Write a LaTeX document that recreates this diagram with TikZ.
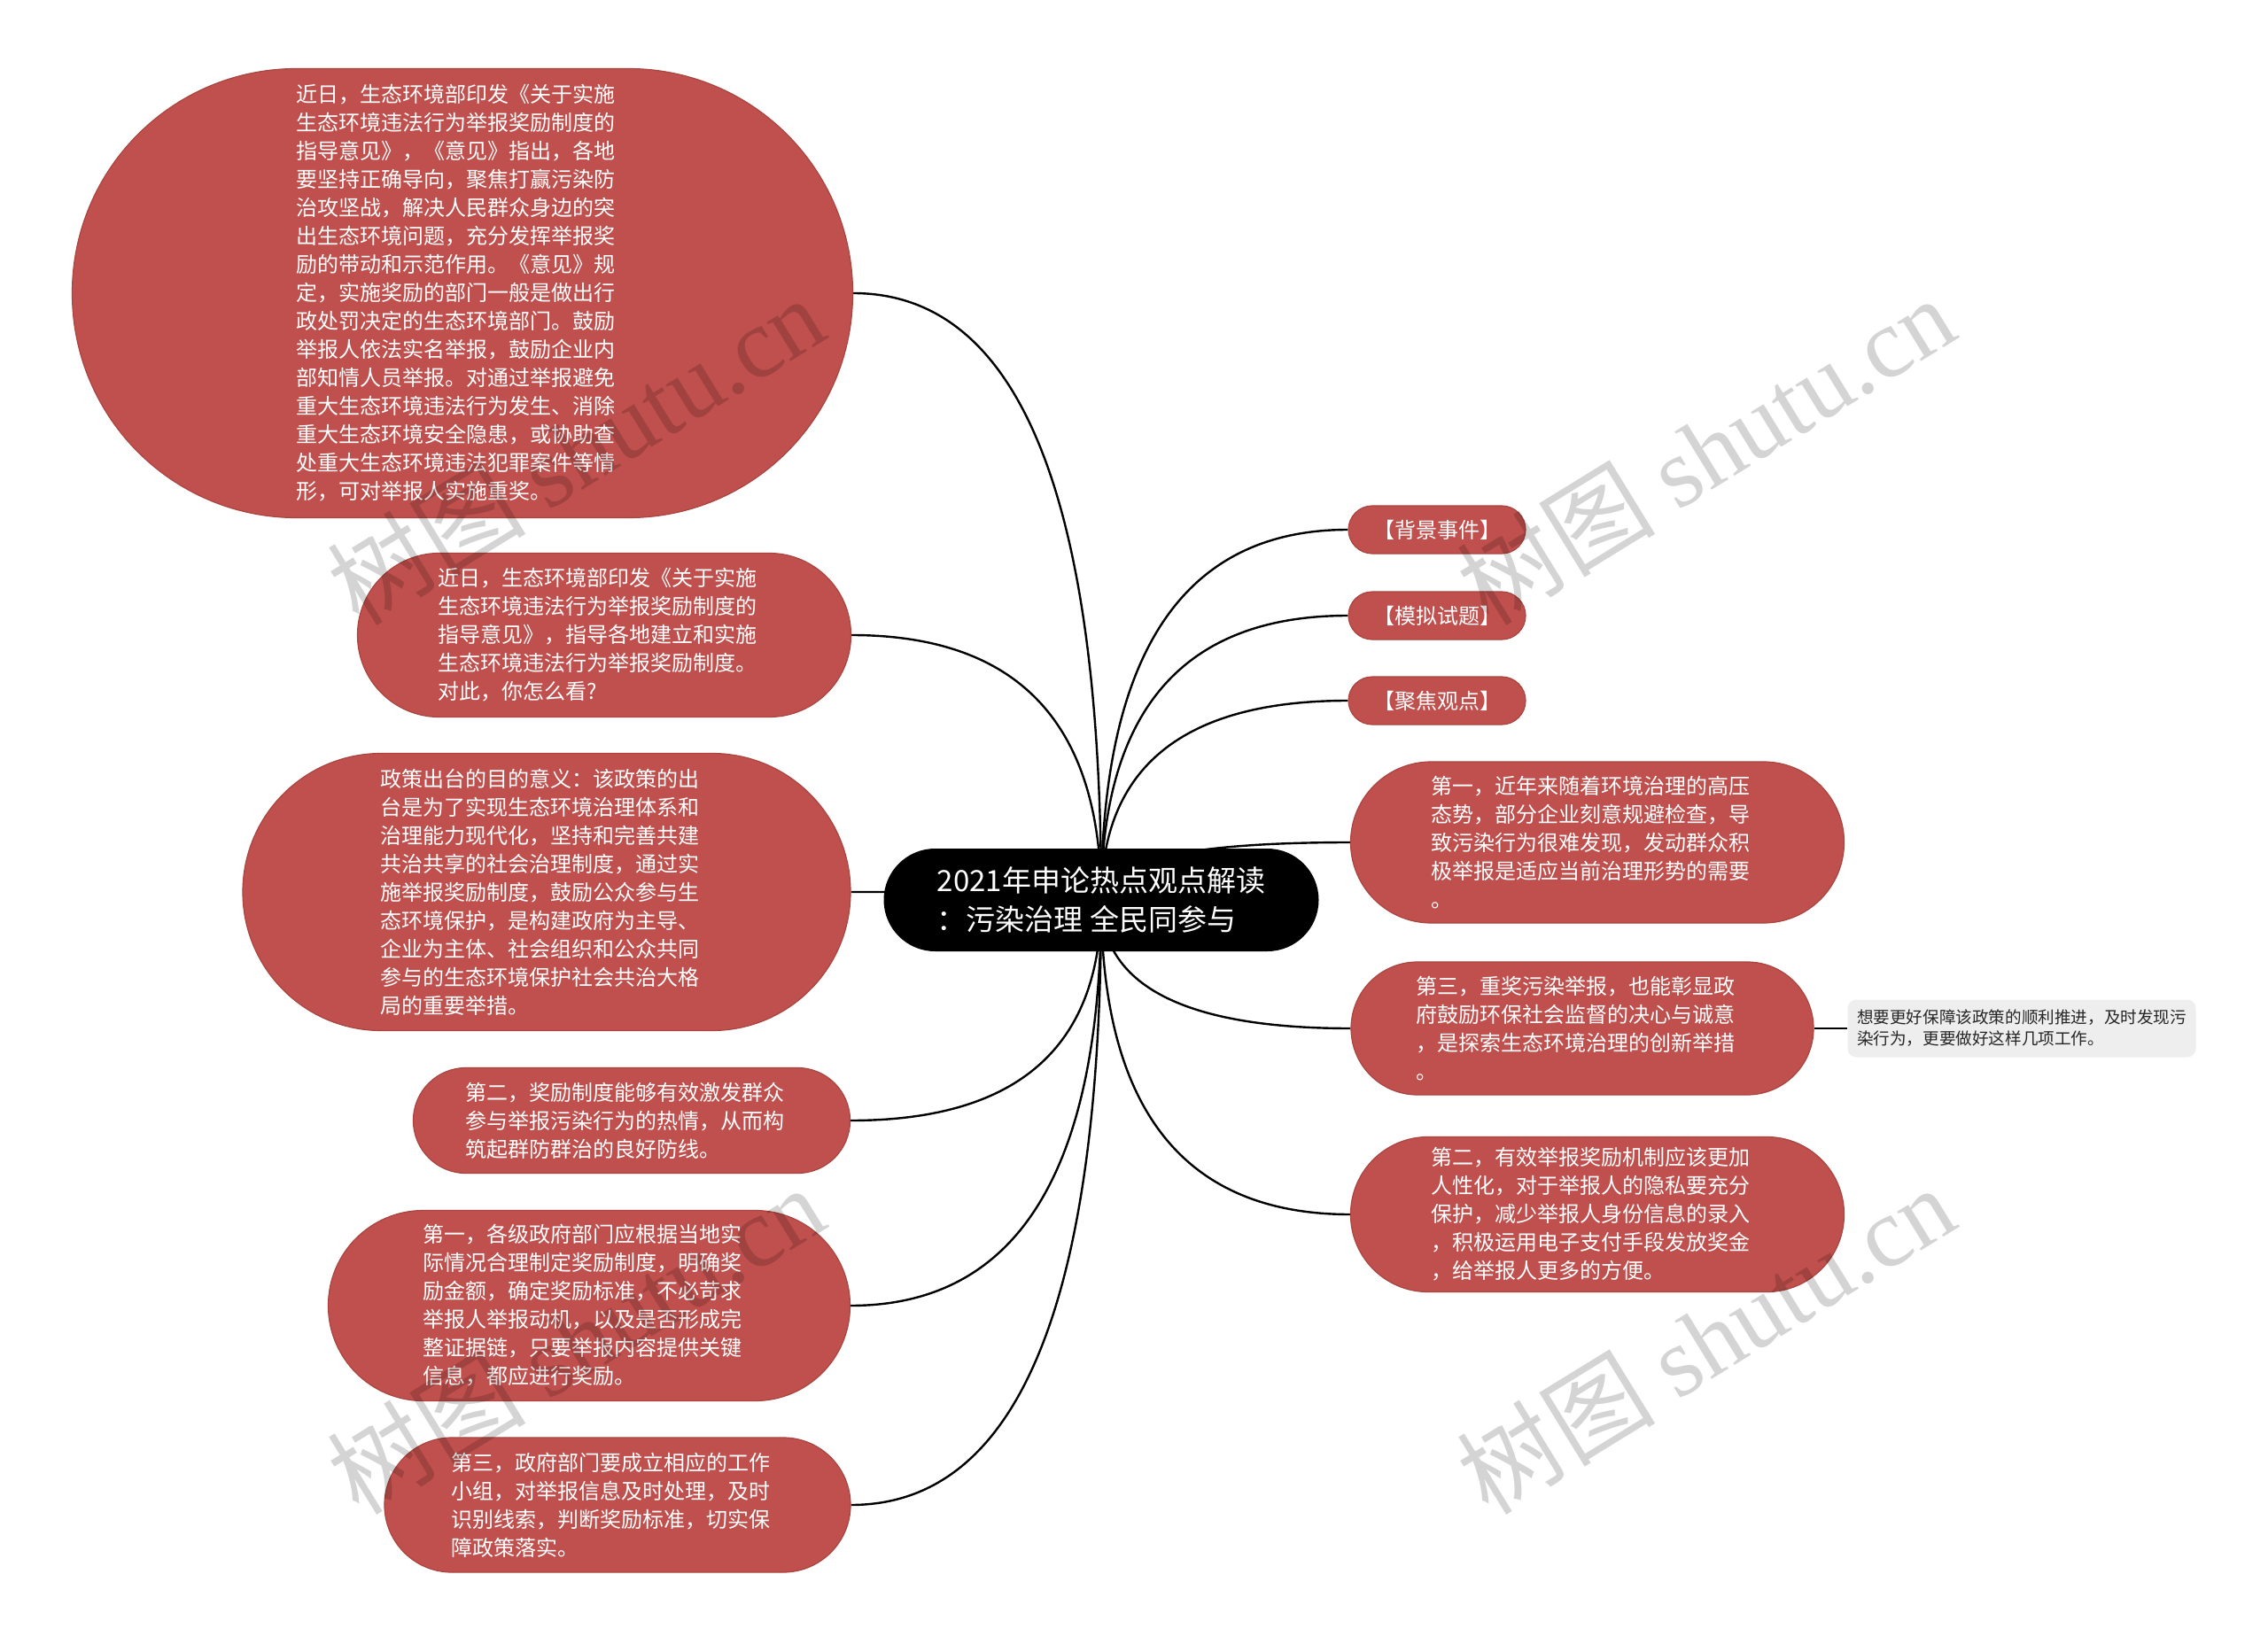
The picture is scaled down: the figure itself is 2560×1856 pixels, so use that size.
\documentclass[tikz,border=0pt]{standalone}
\usepackage{fontspec}
\setmainfont{Noto Sans CJK SC}
\newfontfamily\wmlatin{Liberation Serif}
\usetikzlibrary{calc}
\pgfdeclarelayer{bg}
\pgfdeclarelayer{fg}
\pgfsetlayers{bg,main,fg}
\definecolor{nodered}{HTML}{C0504D}
\definecolor{nodeedge}{HTML}{A9443F}
\definecolor{notegrey}{HTML}{EEEEEE}
\tikzset{
  redbox/.style={fill=nodered, draw=nodeedge, line width=0.6pt, text=white,
    align=left, inner sep=0pt, font=\fontsize{12pt}{16pt}\selectfont},
  longtext/.style={redbox, text width=188pt},
  hubbox/.style={fill=black, text=white, align=left, inner sep=0pt,
    font=\fontsize{16.5pt}{22pt}\selectfont},
  notebox/.style={fill=notegrey, draw=none, rounded corners=5pt, text=black!85,
    align=left, inner sep=0pt, font=\fontsize{9.3pt}{12pt}\selectfont},
  conn/.style={draw=black, line width=1.2pt},
  wmark/.style={text=black, text opacity=0.17, rotate=31.6, anchor=center,
    font=\fontsize{56pt}{66pt}\selectfont}
}
\begin{document}
\begin{tikzpicture}[x=0.5pt,y=-0.5pt]
\useasboundingbox (0,0) rectangle (2560,1856);

% hub
\node[hubbox, minimum width=245.5pt, minimum height=58pt, rounded corners=29pt] (hub) at (1243,1016)
  {2021年申论热点观点解读\\：污染治理 全民同参与};
\coordinate (h) at (1243,1016);

% left nodes
\node[longtext, minimum width=440.5pt, minimum height=253.5pt, rounded corners=126.7pt] (A) at (522,331)
  {近日，生态环境部印发《关于实施\\生态环境违法行为举报奖励制度的\\指导意见》，《意见》指出，各地\\要坚持正确导向，聚焦打赢污染防\\治攻坚战，解决人民群众身边的突\\出生态环境问题，充分发挥举报奖\\励的带动和示范作用。《意见》规\\定，实施奖励的部门一般是做出行\\政处罚决定的生态环境部门。鼓励\\举报人依法实名举报，鼓励企业内\\部知情人员举报。对通过举报避免\\重大生态环境违法行为发生、消除\\重大生态环境安全隐患，或协助查\\处重大生态环境违法犯罪案件等情\\形，可对举报人实施重奖。};
\node[longtext, minimum width=278.5pt, minimum height=92.5pt, rounded corners=46.2pt] (B) at (682,717)
  {近日，生态环境部印发《关于实施\\生态环境违法行为举报奖励制度的\\指导意见》，指导各地建立和实施\\生态环境违法行为举报奖励制度。\\对此，你怎么看?};
\node[longtext, minimum width=343pt, minimum height=156.5pt, rounded corners=78.2pt] (C) at (617,1007)
  {政策出台的目的意义：该政策的出\\台是为了实现生态环境治理体系和\\治理能力现代化，坚持和完善共建\\共治共享的社会治理制度，通过实\\施举报奖励制度，鼓励公众参与生\\态环境保护，是构建政府为主导、\\企业为主体、社会组织和公众共同\\参与的生态环境保护社会共治大格\\局的重要举措。};
\node[longtext, minimum width=246.5pt, minimum height=59.5pt, rounded corners=29.7pt] (D) at (713,1265)
  {第二，奖励制度能够有效激发群众\\参与举报污染行为的热情，从而构\\筑起群防群治的良好防线。};
\node[longtext, minimum width=294.5pt, minimum height=107.5pt, rounded corners=53.7pt] (E) at (665,1474)
  {第一，各级政府部门应根据当地实\\际情况合理制定奖励制度，明确奖\\励金额，确定奖励标准，不必苛求\\举报人举报动机，以及是否形成完\\整证据链，只要举报内容提供关键\\信息，都应进行奖励。};
\node[longtext, minimum width=263pt, minimum height=76pt, rounded corners=38pt] (F) at (697,1699)
  {第三，政府部门要成立相应的工作\\小组，对举报信息及时处理，及时\\识别线索，判断奖励标准，切实保\\障政策落实。};

% right nodes
\node[redbox, minimum width=100pt, minimum height=27pt, rounded corners=13.5pt] (R1) at (1622,598) {【背景事件】};
\node[redbox, minimum width=100pt, minimum height=27pt, rounded corners=13.5pt] (R2) at (1622,695) {【模拟试题】};
\node[redbox, minimum width=100pt, minimum height=27pt, rounded corners=13.5pt] (R3) at (1622,791) {【聚焦观点】};
\node[longtext, minimum width=278.5pt, minimum height=91pt, rounded corners=45.5pt] (R4) at (1803,951)
  {第一，近年来随着环境治理的高压\\态势，部分企业刻意规避检查，导\\致污染行为很难发现，发动群众积\\极举报是适应当前治理形势的需要\\。};
\node[longtext, minimum width=261pt, minimum height=75pt, rounded corners=37.5pt] (R5) at (1786,1161)
  {第三，重奖污染举报，也能彰显政\\府鼓励环保社会监督的决心与诚意\\，是探索生态环境治理的创新举措\\。};
\node[notebox, minimum width=196.5pt, minimum height=32.5pt] (N) at (2282,1161)
  {想要更好保障该政策的顺利推进，及时发现污\\染行为，更要做好这样几项工作。};
\node[longtext, minimum width=278.5pt, minimum height=87.5pt, rounded corners=43.7pt] (R6) at (1803,1371)
  {第二，有效举报奖励机制应该更加\\人性化，对于举报人的隐私要充分\\保护，减少举报人身份信息的录入\\，积极运用电子支付手段发放奖金\\，给举报人更多的方便。};

% connectors
\begin{pgfonlayer}{bg}
\fill[white] (0,0) rectangle (2560,1856);
\foreach \t in {A.east,B.east,C.east,D.east,E.east,F.east,R1.west,R2.west,R3.west,R4.west,R5.west,R6.west}{
  \coordinate (k) at (h |- \t);
  \draw[conn] (h) .. controls ($(h)!0.667!(k)$) and ($(\t)!0.667!(k)$) .. (\t);
}
\draw[conn] (R5.east) -- (N.west);
\end{pgfonlayer}

% watermarks
\begin{pgfonlayer}{fg}
\node[wmark] (w1) at (650,508) {树图 {\wmlatin shutu.cn}};
\node[wmark] (w2) at (1925,508) {树图 {\wmlatin shutu.cn}};
\node[wmark] (w3) at (650,1512) {树图 {\wmlatin shutu.cn}};
\node[wmark] (w4) at (1925,1512) {树图 {\wmlatin shutu.cn}};
\end{pgfonlayer}
\end{tikzpicture}
\end{document}
